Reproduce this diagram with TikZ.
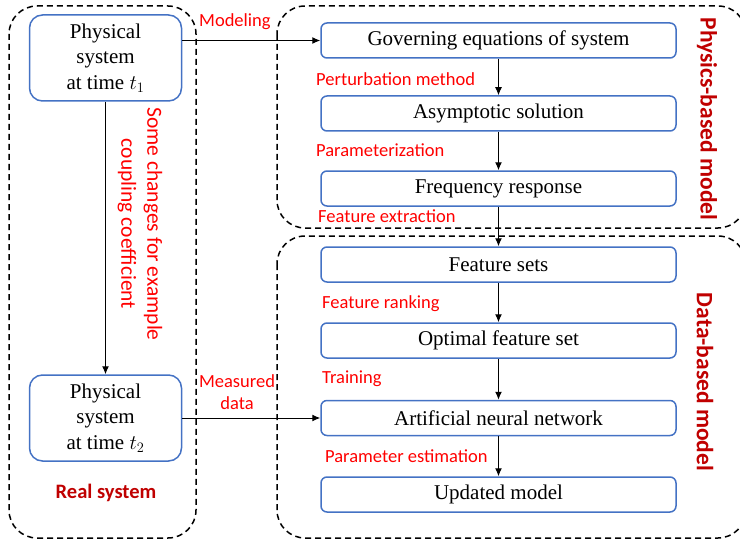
\documentclass[tikz,border=0pt]{standalone}
\usepackage{fontspec}
\setmainfont{Liberation Serif}
\newfontfamily\labelfont{Carlito}
\usetikzlibrary{arrows.meta}

\definecolor{boxblue}{HTML}{4472C4}
\definecolor{darkred}{HTML}{C00000}

\begin{document}
\begin{tikzpicture}[x=1pt,y=-1pt]
% styles
\tikzset{stepbox/.style={draw=boxblue, line width=1.5pt, rounded corners=6pt,
    minimum width=355pt, minimum height=35pt, inner sep=0pt,
    font=\fontsize{21}{25}\selectfont}}
\tikzset{sysbox/.style={draw=boxblue, line width=1.5pt, rounded corners=13pt,
    minimum width=152pt, minimum height=86pt, inner sep=0pt, align=center,
    font=\fontsize{21}{25.5}\selectfont}}
\tikzset{group/.style={draw, dash pattern=on 6pt off 4pt, line width=1.5pt, rounded corners=28pt}}
\tikzset{lbl/.style={text=red, anchor=west, inner sep=0pt, font=\labelfont\fontsize{18.5}{22}\selectfont}}
\tikzset{title/.style={text=darkred, inner sep=0pt, font=\labelfont\bfseries\fontsize{23.5}{28}\selectfont}}
\tikzset{arr/.style={-{Latex[length=8pt,width=7pt]}, line width=1pt}}
\useasboundingbox (0,0) rectangle (740,543);
% Dashed groups
\draw[group] (9,6) rectangle (196,538);
\draw[group] (277,6) rectangle (746,228);
\draw[group] (277,236) rectangle (746,538);
% Real system
\node[sysbox] (t1) at (105.5,58) {Physical\\system\\at time $t_1$};
\node[sysbox] (t2) at (105.5,418) {Physical\\system\\at time $t_2$};
\node[title, font=\labelfont\bfseries\fontsize{20.5}{24}\selectfont] (real) at (106,493) {Real system};
% Physics-based model
\node[stepbox] (gov) at (498.5,40.5) {Governing equations of system};
\node[stepbox] (asym) at (498.5,113.5) {Asymptotic solution};
\node[stepbox] (freq) at (498.5,188.5) {Frequency response};
% Data-based model
\node[stepbox] (feat) at (498.5,264.5) {Feature sets};
\node[stepbox] (opt) at (498.5,340.5) {Optimal feature set};
\node[stepbox] (ann) at (498.5,418) {Artificial neural network};
\node[stepbox] (upd) at (498.5,494.5) {Updated model};
\node[title, rotate=-90] (phys) at (707,119) {Physics-based model};
\node[title, rotate=-90] (data) at (705,382) {Data-based model};
% connectors
\draw[arr] (t1) -- (t2);
\draw[arr] (t1.east |- gov.west) -- (gov.west);
\draw[arr] (t2) -- (ann);
\draw[arr] (gov) -- (asym);
\draw[arr] (asym) -- (freq);
\draw[arr] (freq) -- (feat);
\draw[arr] (feat) -- (opt);
\draw[arr] (opt) -- (ann);
\draw[arr] (ann) -- (upd);
% the labels
\node[lbl] (lmod) at (199,22) {Modeling};
\node[lbl] (lpert) at (316,79) {Perturbation method};
\node[lbl] (lpar) at (316,150) {Parameterization};
\node[lbl] (lext) at (318,216) {Feature extraction};
\node[lbl] (lrank) at (322,304) {Feature ranking};
\node[lbl] (ltrain) at (322,379) {Training};
\node[lbl] (lest) at (325,456) {Parameter estimation};
\node[lbl, anchor=center, align=center, font=\labelfont\fontsize{18.5}{22}\selectfont] (lmeas) at (237,392) {Measured\\data};
\node[lbl, anchor=center, align=center, rotate=-90, font=\labelfont\fontsize{21.5}{26}\selectfont] (lchg) at (140,224) {Some changes for example\\coupling coefficient};
\end{tikzpicture}
\end{document}
